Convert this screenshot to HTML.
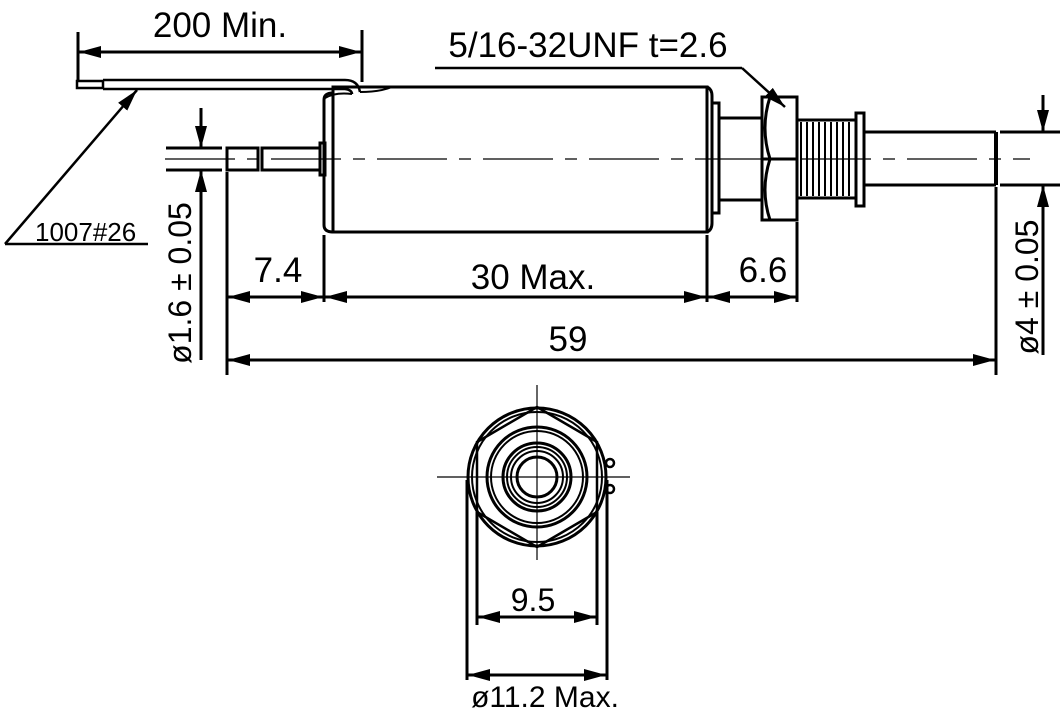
<!DOCTYPE html>
<html><head><style>body{margin:0;background:#fff}svg{display:block}text{font-family:"Liberation Sans",sans-serif;fill:#000}</style></head><body>
<svg width="1064" height="725" viewBox="0 0 1064 725" xmlns="http://www.w3.org/2000/svg">
<defs><marker id="a" viewBox="0 0 22 12" refX="22" refY="6" markerWidth="22" markerHeight="12" markerUnits="userSpaceOnUse" orient="auto-start-reverse"><path d="M0,0L22,6L0,12z" fill="#000"/></marker></defs>
<g stroke="#000" fill="none" stroke-width="3">
<line x1="78" y1="32" x2="78" y2="80"/><line x1="362" y1="30" x2="362" y2="82"/>
<line x1="79" y1="52" x2="361" y2="52" marker-start="url(#a)" marker-end="url(#a)"/>
<rect x="77" y="81" width="26" height="7" stroke-width="2.5"/>
<path d="M103,80H345Q358,80 360,92M103,89H345Q352,90 352,94" stroke-width="2.5"/>
<path d="M325,98Q335,92 352,94M360,92Q380,92 392,87" stroke-width="2"/>
<path d="M5,244H148" stroke-width="2.5"/><line x1="5" y1="244" x2="137" y2="90" stroke-width="2.5" marker-end="url(#a)"/>
<line x1="201" y1="108" x2="201" y2="148" marker-end="url(#a)"/>
<line x1="201" y1="360" x2="201" y2="170" marker-end="url(#a)"/>
<line x1="166" y1="148" x2="222" y2="148"/><line x1="166" y1="170" x2="222" y2="170"/>
<rect x="227" y="148" width="31" height="22"/><rect x="262" y="148" width="58" height="22"/>
<rect x="320" y="143" width="5" height="32"/>
<path d="M333,87H707V232H333Z" stroke-width="3"/>
<path d="M333,93Q324,93 324,100V225Q324,232 333,232"/>
<path d="M707,87Q712,89 712,96V223Q712,230 707,232"/>
<rect x="712" y="103" width="7" height="110"/>
<rect x="719" y="118" width="43" height="82"/>
<rect x="762" y="97" width="35" height="123"/>
<path d="M762,159H797M770,97Q760,128 770,159Q760,190 770,220"/>
<path d="M797,120H855M797,198H855"/>
<path d="M801,122V196M807,122V196M813,122V196M819,122V196M825,122V196M831,122V196M837,122V196M843,122V196M849,122V196" stroke-width="2"/>
<rect x="856" y="113" width="8" height="93"/>
<path d="M864,132H996M864,185H996"/>
<line x1="996" y1="132" x2="996" y2="185" stroke-width="4"/>
<line x1="1000" y1="132" x2="1060" y2="132"/><line x1="1000" y1="185" x2="1060" y2="185"/>
<line x1="1043" y1="95" x2="1043" y2="132" marker-end="url(#a)"/>
<line x1="1043" y1="355" x2="1043" y2="185" marker-end="url(#a)"/>
<path d="M435,68H742" stroke-width="2.5"/><line x1="742" y1="68" x2="785" y2="107" stroke-width="2.5" marker-end="url(#a)"/>
<path d="M227,172V375M324,235V302M707,235V302M797,222V302M996,187V375"/>
<line x1="228" y1="297" x2="323" y2="297" marker-start="url(#a)" marker-end="url(#a)"/>
<line x1="325" y1="297" x2="706" y2="297" marker-start="url(#a)" marker-end="url(#a)"/>
<line x1="708" y1="297" x2="796" y2="297" marker-start="url(#a)" marker-end="url(#a)"/>
<line x1="228" y1="360" x2="995" y2="360" marker-start="url(#a)" marker-end="url(#a)"/>
</g>
<line x1="165" y1="159" x2="1030" y2="159" stroke="#000" stroke-width="1.2" stroke-dasharray="70,12,12,12"/>
<g stroke="#000" fill="none" stroke-width="3">
<circle cx="537" cy="477" r="69"/><circle cx="537" cy="477" r="65" stroke-width="2"/>
<path d="M537,407L477,442V512L537,547L597,512V442Z" stroke-width="2.5"/>
<circle cx="537" cy="477" r="50"/><circle cx="537" cy="477" r="46" stroke-width="2"/>
<circle cx="537" cy="477" r="34"/><circle cx="537" cy="477" r="30" stroke-width="2"/><circle cx="537" cy="477" r="26" stroke-width="2"/>
<circle cx="537" cy="477" r="20"/>
<circle cx="610" cy="463" r="4" stroke-width="2.5"/><circle cx="610" cy="489" r="4" stroke-width="2.5"/>
<path d="M467,480V680M607,480V680M477,512V625M597,512V625"/>
</g>
<path d="M437,477H630M537,385V560" stroke="#000" stroke-width="1.2"/>
<g stroke="#000" stroke-width="3">
<line x1="478" y1="617" x2="596" y2="617" marker-start="url(#a)" marker-end="url(#a)"/>
<line x1="468" y1="675" x2="606" y2="675" marker-start="url(#a)" marker-end="url(#a)"/>
</g>
<g font-size="35">
<text x="220" y="37" text-anchor="middle">200 Min.</text>
<text x="588" y="57" text-anchor="middle">5/16-32UNF t=2.6</text>
<text x="278" y="282" text-anchor="middle">7.4</text>
<text x="533" y="289" text-anchor="middle">30 Max.</text>
<text x="763" y="282" text-anchor="middle">6.6</text>
<text x="568" y="351" text-anchor="middle">59</text>
<text transform="translate(191,283) rotate(-90)" text-anchor="middle" font-size="32">ø1.6 ± 0.05</text>
<text transform="translate(1038,287) rotate(-90)" text-anchor="middle" font-size="32">ø4 ± 0.05</text>
<text x="533" y="611" text-anchor="middle" font-size="32">9.5</text>
<text x="545" y="707" text-anchor="middle" font-size="30">ø11.2 Max.</text>
</g>
<text x="35" y="241" font-size="26">1007#26</text>
</svg>
</body></html>
